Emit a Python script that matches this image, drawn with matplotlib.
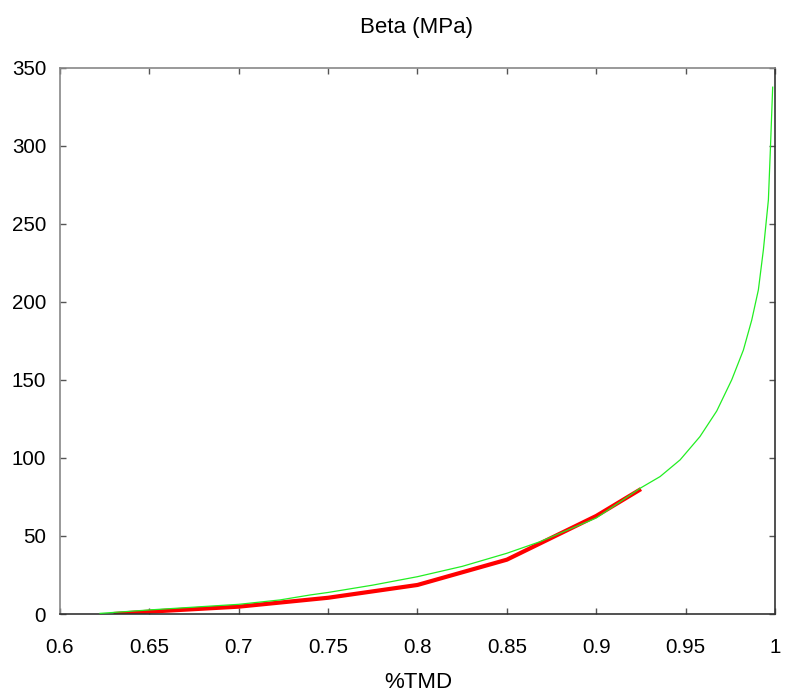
import numpy as np
import matplotlib.pyplot as plt
from matplotlib.ticker import FuncFormatter

# measured curve (red, thick)
tmd_meas = [0.63, 0.65, 0.70, 0.75, 0.80, 0.85, 0.90, 0.925]
beta_meas = [0.0, 1.5, 4.7, 10.4, 18.6, 34.8, 62.8, 80.0]

# fitted curve (green, thin)
tmd_fit = [0.6224, 0.65, 0.70, 0.723, 0.74, 0.75, 0.775, 0.80, 0.825, 0.85,
           0.8685, 0.90, 0.9245, 0.9357, 0.9469, 0.958, 0.9674, 0.9758,
           0.9823, 0.987, 0.9907, 0.9935, 0.9963, 0.9975, 0.9987]
beta_fit = [0.4, 2.6, 6.2, 9.0, 12.2, 13.8, 18.5, 23.9, 30.5, 38.9,
            46.3, 61.5, 80.5, 88.0, 98.7, 113.6, 130.0, 150.0,
            169.0, 188.3, 207.6, 233.2, 265.2, 300.0, 337.4]

plt.rcParams['font.family'] = ['Liberation Sans', 'DejaVu Sans']

fig = plt.figure(figsize=(7.85, 6.94), dpi=100)
ax = fig.add_axes([60/785, 80/694, 715/785, 546.5/694])

ax.plot(tmd_meas, beta_meas, color='#ff0000', lw=3.0, solid_capstyle='butt', zorder=2)
ax.plot(tmd_fit, beta_fit, color='#22ee22', lw=0.9, zorder=3)

ax.set_xlim(0.6, 1.0)
ax.set_ylim(0, 350)
ax.set_xticks(np.arange(0.6, 1.001, 0.05))
ax.set_yticks(np.arange(0, 351, 50))
ax.xaxis.set_major_formatter(FuncFormatter(lambda v, p: '%g' % round(v, 2)))

ax.tick_params(direction='in', length=4, width=1, color='#555555',
               top=True, right=True, labelsize=14.8)
ax.tick_params(axis='x', pad=17)
ax.tick_params(axis='y', pad=10)

for side in ['bottom', 'right']:
    ax.spines[side].set_color('#333333')
    ax.spines[side].set_linewidth(1.2)
for side in ['left', 'top']:
    ax.spines[side].set_color('#888888')
    ax.spines[side].set_linewidth(1.2)

fig.text(416.5/785, 1 - 28/694, 'Beta (MPa)', ha='center', va='center', fontsize=16)
fig.text(418/785, 1 - 683/694, '%TMD', ha='center', va='center', fontsize=16)

fig.savefig('out.png', dpi=100)
